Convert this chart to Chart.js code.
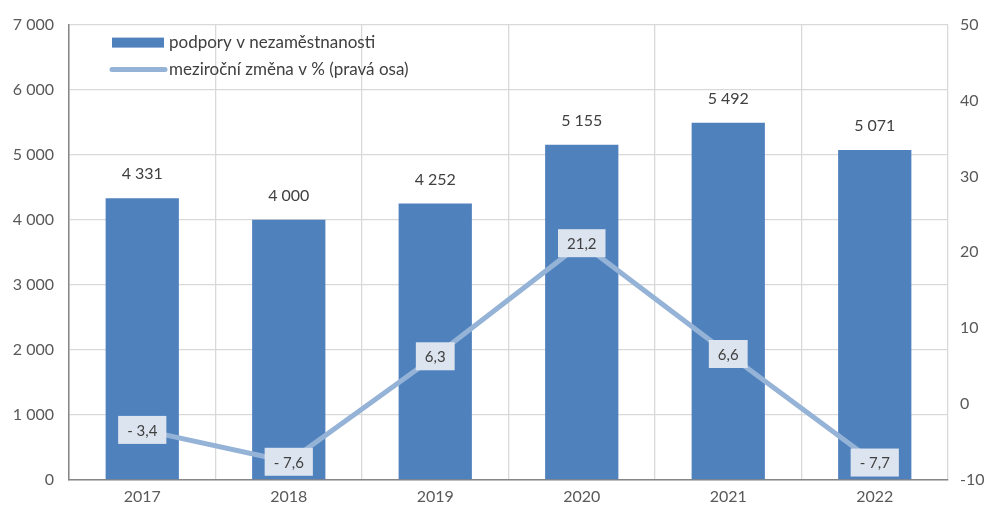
<!DOCTYPE html>
<html><head><meta charset="utf-8">
<script src="https://cdn.jsdelivr.net/npm/chart.js@4"></script>
<style>html,body{margin:0;padding:0;background:#fff}#wrap{width:993px;height:510px}</style>
</head><body><div id="wrap"><canvas id="c" width="993" height="510"></canvas></div>
<script>
const categories = ['2017','2018','2019','2020','2021','2022'];
const barValues = [4331, 4000, 4252, 5155, 5492, 5071];
const changeValues = [-3.4, -7.6, 6.3, 21.2, 6.6, -7.7];
const barLabels = ['4 331','4 000','4 252','5 155','5 492','5 071'];
const changeLabels = ['- 3,4','- 7,6','6,3','21,2','6,6','- 7,7'];
const seriesNames = ['podpory v nezaměstnanosti','meziroční změna v % (pravá osa)'];

const FONT = 'Lato, "Open Sans", sans-serif';
const BAR = '#4f81bd', LINE = '#95b3d7';

const labelPlugin = {
  id: 'labels',
  afterDatasetsDraw(chart) {
    const ctx = chart.ctx;
    ctx.save();
    ctx.font = '16px ' + FONT;
    ctx.fillStyle = '#404040';
    ctx.textAlign = 'center';
    ctx.textBaseline = 'middle';
    chart.getDatasetMeta(1).data.forEach((el, i) => {
      ctx.fillText(barLabels[i], el.x, el.y - 24);
    });
    ctx.font = '15px ' + FONT;
    chart.getDatasetMeta(0).data.forEach((el, i) => {
      const w = ctx.measureText(changeLabels[i]).width + 18;
      const h = 28;
      ctx.fillStyle = '#dce4ef';
      ctx.fillRect(el.x - w/2, el.y - h/2, w, h);
      ctx.fillStyle = '#404040';
      ctx.fillText(changeLabels[i], el.x, el.y + 1);
    });
    // legend
    const a = chart.chartArea;
    const lx = a.left + 43, ly1 = a.top + 18, ly2 = a.top + 45;
    ctx.fillStyle = BAR;
    ctx.fillRect(lx, ly1 - 5, 52, 10);
    ctx.strokeStyle = LINE; ctx.lineWidth = 5; ctx.lineCap = 'round';
    ctx.beginPath(); ctx.moveTo(lx, ly2); ctx.lineTo(lx + 53, ly2); ctx.stroke();
    ctx.font = '17px ' + FONT;
    ctx.fillStyle = '#404040';
    ctx.textAlign = 'left';
    ctx.fillText(seriesNames[0], lx + 57, ly1);
    ctx.fillText(seriesNames[1], lx + 57, ly2);
    ctx.restore();
  }
};

new Chart(document.getElementById('c'), {
  type: 'bar',
  data: {
    labels: categories,
    datasets: [
      { type: 'line', label: seriesNames[1], data: changeValues, yAxisID: 'y1',
        borderColor: LINE, borderWidth: 5, pointRadius: 0, tension: 0, order: 0 },
      { type: 'bar', label: seriesNames[0], data: barValues, yAxisID: 'y',
        backgroundColor: BAR, categoryPercentage: 0.5, barPercentage: 1, order: 1 }
    ]
  },
  options: {
    responsive: false, animation: false,
    layout: { padding: { top: 21, left: 0, right: 0, bottom: 0 } },
    plugins: { legend: { display: false }, tooltip: { enabled: false } },
    scales: {
      x: {
        offset: true,
        grid: { offset: true, color: '#d9d9d9', lineWidth: 1.3, drawTicks: false },
        border: { color: '#868686', width: 1.5 },
        ticks: { color: '#595959', font: { size: 16, family: FONT }, padding: 7 },
        afterFit: s => { s.height = 30; }
      },
      y: {
        position: 'left', min: 0, max: 7000,
        ticks: { stepSize: 1000, color: '#595959', font: { size: 16, family: FONT }, padding: 15,
          callback: v => v === 0 ? '0' : (String(v/1000) + ' 000') },
        grid: { color: '#d9d9d9', lineWidth: 1.3, drawTicks: false },
        border: { color: '#868686', width: 1.5 },
        afterFit: s => { s.width = 69; }
      },
      y1: {
        position: 'right', min: -10, max: 50,
        ticks: { stepSize: 10, color: '#595959', font: { size: 16, family: FONT }, padding: 12 },
        grid: { display: false, drawTicks: false },
        border: { display: false },
        afterFit: s => { s.width = 45; }
      }
    }
  },
  plugins: [labelPlugin]
});
</script></body></html>
